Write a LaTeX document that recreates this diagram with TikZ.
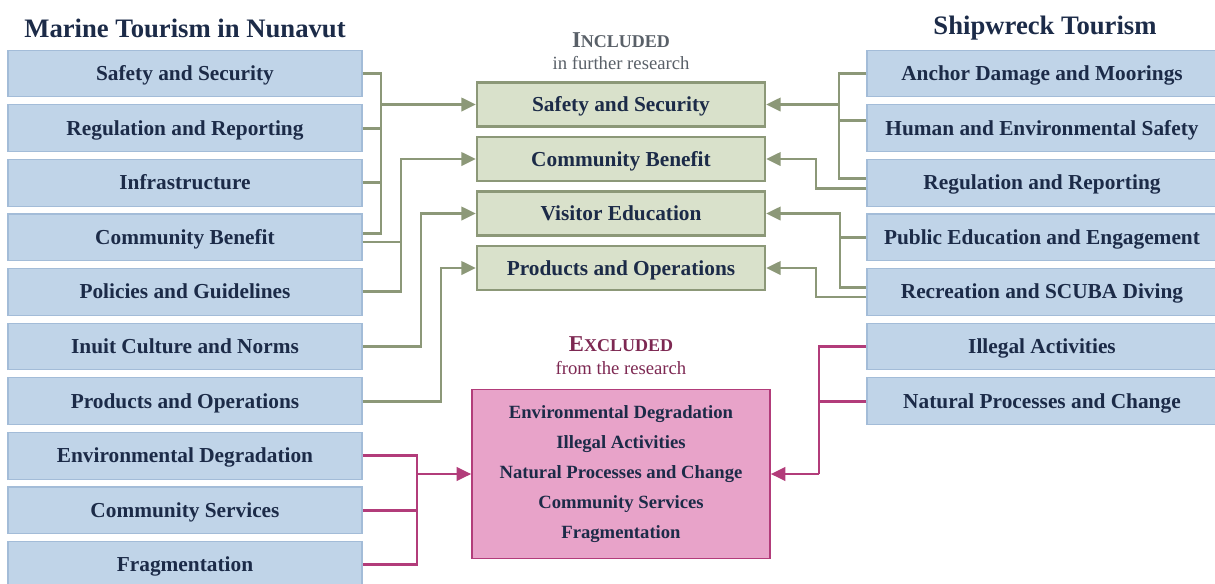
\documentclass[tikz,border=0pt]{standalone}
\usepackage{fontspec}
\setmainfont{Liberation Serif}
\usetikzlibrary{arrows.meta}

\definecolor{boxblue}{HTML}{C0D4E8}
\definecolor{lineblue}{HTML}{A3BCD8}
\definecolor{boxgreen}{HTML}{D9E1CB}
\definecolor{linegreen}{HTML}{8C9878}
\definecolor{boxpink}{HTML}{E8A3C9}
\definecolor{linepink}{HTML}{B23C7A}
\definecolor{navy}{HTML}{1C2B48}
\definecolor{incgray}{HTML}{596068}
\definecolor{excpurple}{HTML}{7D2852}

\tikzset{
	mbox/.style={draw=lineblue, fill=boxblue, line width=0.8pt, minimum width=265.5pt,
		minimum height=35pt, inner sep=0pt, text height=11pt, text depth=0.5pt,
		text=navy, font=\fontsize{16}{16}\selectfont\bfseries},
	rbox/.style={mbox, minimum width=262.5pt},
	gbox/.style={draw=linegreen, fill=boxgreen, line width=1.6pt, minimum width=216pt,
		minimum height=33pt, inner sep=0pt, text height=11pt, text depth=0.5pt,
		text=navy, font=\fontsize{16}{16}\selectfont\bfseries},
	pbox/.style={draw=linepink, fill=boxpink, line width=1.1pt, minimum width=223.5pt,
		minimum height=126.75pt, inner sep=0pt, align=center, text=navy,
		font=\fontsize{14}{22.5}\selectfont\bfseries},
	gline/.style={draw=linegreen, line width=2.2pt},
	garrow/.style={gline, -{Triangle[length=11pt,width=10pt]}},
	pline/.style={draw=linepink, line width=2.2pt},
	parrow/.style={pline, -{Triangle[length=11pt,width=10pt]}},
	heading/.style={text=navy, font=\fontsize{20}{20}\selectfont\bfseries}
}

\begin{document}
\begin{tikzpicture}[x=0.75pt, y=-0.75pt]
	\useasboundingbox (0,0) rectangle (1215,583);

	% headings
	\node[heading] (hleft) at (185,28) {Marine Tourism in Nunavut};
	\node[heading] (hright) at (1045,28) {Shipwreck Tourism};
	\node[text=incgray, font=\bfseries] (inc) at (621,40)
		{{\fontsize{17}{17}\selectfont I}{\fontsize{13.5}{13.5}\selectfont NCLUDED}};
	\node[text=incgray, font=\fontsize{14}{14}\selectfont] (incsub) at (621,63) {in further research};
	\node[text=excpurple, font=\bfseries] (exc) at (621,344)
		{{\fontsize{17}{17}\selectfont E}{\fontsize{13.5}{13.5}\selectfont XCLUDED}};
	\node[text=excpurple, font=\fontsize{14}{14}\selectfont] (excsub) at (621,368) {from the research};

	% marine tourism themes
	\foreach \txt [count=\i] in {Safety and Security, Regulation and Reporting, Infrastructure,
		Community Benefit, Policies and Guidelines, Inuit Culture and Norms, Products and Operations,
		Environmental Degradation, Community Services, Fragmentation}
		\node[mbox] (m\i) at ({185},{73.5+54.6*(\i-1)}) {\txt};

	% shipwreck tourism themes
	\foreach \txt [count=\i] in {Anchor Damage and Moorings, Human and Environmental Safety,
		Regulation and Reporting, Public Education and Engagement, Recreation and SCUBA Diving,
		Illegal Activities, Natural Processes and Change}
		\node[rbox] (r\i) at ({1042},{73.5+54.6*(\i-1)}) {\txt};

	% included themes
	\node[gbox] (g1) at (621,104.5) {Safety and Security};
	\node[gbox] (g2) at (621,159) {Community Benefit};
	\node[gbox] (g3) at (621,213.5) {Visitor Education};
	\node[gbox] (g4) at (621,268) {Products and Operations};

	% excluded themes
	\node[pbox] (p) at (621,474) {Environmental Degradation\\Illegal Activities\\
		Natural Processes and Change\\Community Services\\Fragmentation};

	% bus positions
	\coordinate (busA) at (381,0);
	\coordinate (busB) at (401,0);
	\coordinate (busC) at (421,0);
	\coordinate (busD) at (441,0);
	\coordinate (busE) at (839,0);
	\coordinate (busF) at (816,0);
	\coordinate (busG) at (840,0);
	\coordinate (busP) at (417,0);
	\coordinate (busQ) at (819,0);

	% split ends on shared boxes
	\coordinate (m4up) at ([yshift=3.2pt]m4.east);
	\coordinate (m4dn) at ([yshift=-3.5pt]m4.east);
	\coordinate (r2up) at ([yshift=6pt]r2.west);
	\coordinate (r3up) at ([yshift=3.5pt]r3.west);
	\coordinate (r3dn) at ([yshift=-4pt]r3.west);
	\coordinate (r5up) at ([yshift=3pt]r5.west);
	\coordinate (r5dn) at ([yshift=-3.8pt]r5.west);

	% left side, included
	\draw[gline] (m1.east) -| (busA |- m4up) -- (m4up);
	\draw[gline] (m2.east) -- (busA |- m2.east);
	\draw[gline] (m3.east) -- (busA |- m3.east);
	\draw[garrow] (busA |- g1.west) -- (g1.west);
	\draw[garrow] (m4dn) -| (busB |- g2.west) -- (g2.west);
	\draw[gline] (m5.east) -| (busB |- m4dn);
	\draw[garrow] (m6.east) -| (busC |- g3.west) -- (g3.west);
	\draw[garrow] (m7.east) -| (busD |- g4.west) -- (g4.west);

	% right side, included
	\draw[gline] (r1.west) -| (busE |- r3up) -- (r3up);
	\draw[gline] (r2up) -- (busE |- r2up);
	\draw[garrow] (busE |- g1.east) -- (g1.east);
	\draw[garrow] (r3dn) -| (busF |- g2.east) -- (g2.east);
	\draw[garrow] (r5up) -| (busG |- g3.east) -- (g3.east);
	\draw[gline] (r4.west) -- (busG |- r4.west);
	\draw[garrow] (r5dn) -| (busF |- g4.east) -- (g4.east);

	% excluded
	\draw[pline] (m8.east) -| (busP |- m10.east) -- (m10.east);
	\draw[pline] (m9.east) -- (busP |- m9.east);
	\draw[parrow] (busP |- p.west) -- (p.west);
	\draw[pline] (r6.west) -| (busQ |- p.east);
	\draw[pline] (r7.west) -- (busQ |- r7.west);
	\draw[parrow] (busQ |- p.east) -- (p.east);
\end{tikzpicture}
\end{document}
